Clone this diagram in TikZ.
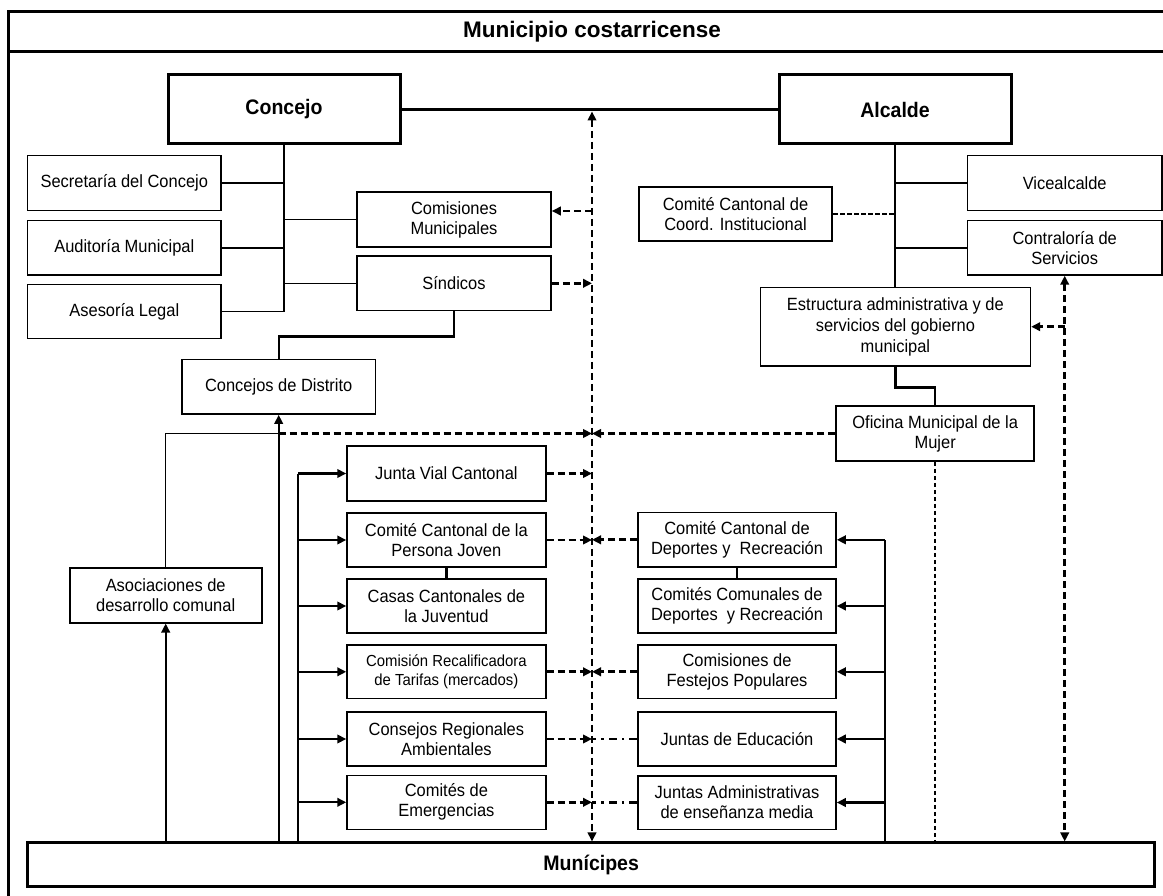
\documentclass[tikz,border=0pt]{standalone}
\usepackage{fontspec}
\setmainfont{Liberation Sans}[FakeStretch=0.93]
\newfontfamily\titlefont{Liberation Sans}
\usetikzlibrary{arrows.meta}
\begin{document}
\begin{tikzpicture}[x=1pt,y=-1pt,
  >={Triangle[length=9pt,width=8.5pt]},
  box/.style={draw, line width=1.6pt, align=center, inner sep=1pt, font=\fontsize{17.7}{20}\selectfont},
  bigbox/.style={draw, line width=3pt, align=center, font=\fontsize{21}{24}\selectfont\bfseries},
  sline/.style={line width=1.5pt},
  mline/.style={line width=2.2pt},
  dline/.style={line width=2.8pt, dash pattern=on 7pt off 4pt},
  tdline/.style={line width=1.6pt, dash pattern=on 4.5pt off 2.5pt},
  ddline/.style={line width=2.5pt, dash pattern=on 8pt off 5pt on 2.5pt off 5pt},
]
\useasboundingbox (0,0) rectangle (1163,896);
% frame
\draw[line width=3pt] (1170,12) -- (8,12) -- (8,900);
\draw[line width=3pt] (8,52) -- (1170,52);
\node[font=\titlefont\fontsize{22.5}{26}\selectfont\bfseries] (title) at (592,32) {Municipio costarricense};

% top level
\node[bigbox, minimum width=232, minimum height=69] (concejo) at (284,109.5) {Concejo};
\node[bigbox, minimum width=232, minimum height=69] (alcalde) at (895,109.5) {Alcalde};

% Concejo branch
\node[box, minimum width=193.4, minimum height=55] (secretaria) at (124.3,183.2) {Secretaría del Concejo};
\node[box, minimum width=193.4, minimum height=54.3] (auditoria) at (124.3,247.8) {Auditoría Municipal};
\node[box, minimum width=193.4, minimum height=54] (asesoria) at (124.3,311.7) {Asesoría Legal};
\node[box, minimum width=194, minimum height=55] (comisiones) at (454,219.5) {Comisiones\\Municipales};
\node[box, minimum width=194, minimum height=54.7] (sindicos) at (454,283.3) {Síndicos};
\node[box, minimum width=193.4, minimum height=54.7] (distrito) at (278.7,386.7) {Concejos de Distrito};

% Alcalde branch
\node[box, minimum width=194.7, minimum height=55] (vice) at (1064.7,183.2) {Vicealcalde};
\node[box, minimum width=194.7, minimum height=54.3] (contra) at (1064.7,247.8) {Contraloría de\\Servicios};
\node[box, minimum width=193.5, minimum height=54] (coord) at (735.5,214.3) {Comité Cantonal de\\Coord. Institucional};
\node[box, minimum width=270, minimum height=78, font=\fontsize{17.7}{21}\selectfont] (estructura) at (895.4,326.7) {Estructura administrativa y de\\servicios del gobierno\\municipal};
\node[box, minimum width=198, minimum height=55] (oficina) at (935.2,433.5) {Oficina Municipal de la\\Mujer};

% left lower
\node[box, minimum width=192, minimum height=55] (asoc) at (165.7,595.2) {Asociaciones de\\desarrollo comunal};

% left column
\node[box, minimum width=198.7, minimum height=55] (junta) at (446.4,473.5) {Junta Vial Cantonal};
\node[box, minimum width=198.7, minimum height=54] (joven) at (446.4,540) {Comité Cantonal de la\\Persona Joven};
\node[box, minimum width=198.7, minimum height=54] (casas) at (446.4,606) {Casas Cantonales de\\la Juventud};
\node[box, minimum width=198.7, minimum height=53.7, font=\fontsize{16}{19.5}\selectfont] (recal) at (446.4,671.8) {Comisión Recalificadora\\de Tarifas (mercados)};
\node[box, minimum width=198.7, minimum height=54] (consejos) at (446.4,739) {Consejos Regionales\\Ambientales};
\node[box, minimum width=198.7, minimum height=54] (emerg) at (446.4,802.3) {Comités de\\Emergencias};

% right column
\node[box, minimum width=198, minimum height=54.3] (deportes) at (737,539.8) {Comité Cantonal de\\Deportes y~ Recreación};
\node[box, minimum width=198, minimum height=54] (comunales) at (737,606) {Comités Comunales de\\Deportes~ y Recreación};
\node[box, minimum width=198, minimum height=53.7] (festejos) at (737,671.8) {Comisiones de\\Festejos Populares};
\node[box, minimum width=198, minimum height=54] (educacion) at (737,739) {Juntas de Educación};
\node[box, minimum width=198, minimum height=53.6] (juntasadm) at (737,802.5) {Juntas Administrativas\\de enseñanza media};

% bottom
\node[bigbox, minimum width=1127.5, minimum height=43.5] (munic) at (591.2,864.7) {Munícipes};

% Concejo - Alcalde
\draw[line width=2.6pt] (concejo.east) -- (alcalde.west);

% Concejo tree
\draw[sline] (concejo.south) |- (secretaria.east);
\draw[sline] (concejo.south) |- (auditoria.east);
\draw[sline] (concejo.south) |- (asesoria.east);
\draw[sline] (concejo.south) |- (comisiones.west);
\draw[sline] (concejo.south) |- (sindicos.west);
\draw[mline] (sindicos.south) -- ++(0,25) -| (distrito.north);

% Alcalde tree
\draw[sline] (alcalde.south) -- (alcalde.south |- estructura.north);
\draw[sline] (alcalde.south) |- (vice.west);
\draw[sline] (alcalde.south) |- (contra.west);
\draw[tdline] (coord.east) -- (coord.east -| alcalde.south);
\draw[mline] (estructura.south) -- ++(0,21) -| (oficina.north);

% central double arrow
\coordinate (ctop) at (592,111.5);
\draw[dline, <->] (ctop) -- (ctop |- munic.north);

% dashed arrows into the central line
\coordinate (cm) at ([yshift=8.5pt]comisiones.east);
\draw[dline, ->] (cm -| ctop) -- (cm);
\foreach \n in {sindicos,junta,joven,recal,consejos,emerg}
  \draw[dline, ->] (\n.east) -- (\n.east -| ctop);
\foreach \n in {oficina,deportes,festejos}
  \draw[dline, ->] (\n.west) -- (\n.west -| ctop);
\foreach \n in {educacion,juntasadm}
  \draw[ddline] (\n.west) -- (\n.west -| ctop);

% Distrito / Asociaciones
\coordinate (dj) at (distrito.south |- oficina.west);
\draw[sline] (asoc.north) |- (dj);
\draw[dline, ->] (dj) -- (dj -| ctop);
\draw[mline, ->] (distrito.south |- munic.north) -- (distrito.south);
\draw[mline, ->] (asoc.south |- munic.north) -- (asoc.south);

% left column feed
\coordinate (lv) at (298,0);
\draw[mline] (lv |- munic.north) -- (lv |- junta.west);
\foreach \n in {junta,joven,casas,recal,consejos,emerg}
  \draw[mline, ->] (lv |- \n.west) -- (\n.west);
\draw[mline] (joven.south) -- (casas.north);

% right column feed
\coordinate (rv) at (885,0);
\draw[line width=2.8pt] (rv |- munic.north) -- (rv |- deportes.east);
\foreach \n in {deportes,comunales,festejos,educacion,juntasadm}
  \draw[mline, ->] (rv |- \n.east) -- (\n.east);
\draw[mline] (deportes.south) -- (comunales.north);

% Oficina and Contraloria links
\draw[tdline] (oficina.south) -- (oficina.south |- munic.north);
\draw[dline, <->] (contra.south) -- (contra.south |- munic.north);
\draw[dline, ->] (contra.south |- estructura.east) -- (estructura.east);
\end{tikzpicture}
\end{document}
